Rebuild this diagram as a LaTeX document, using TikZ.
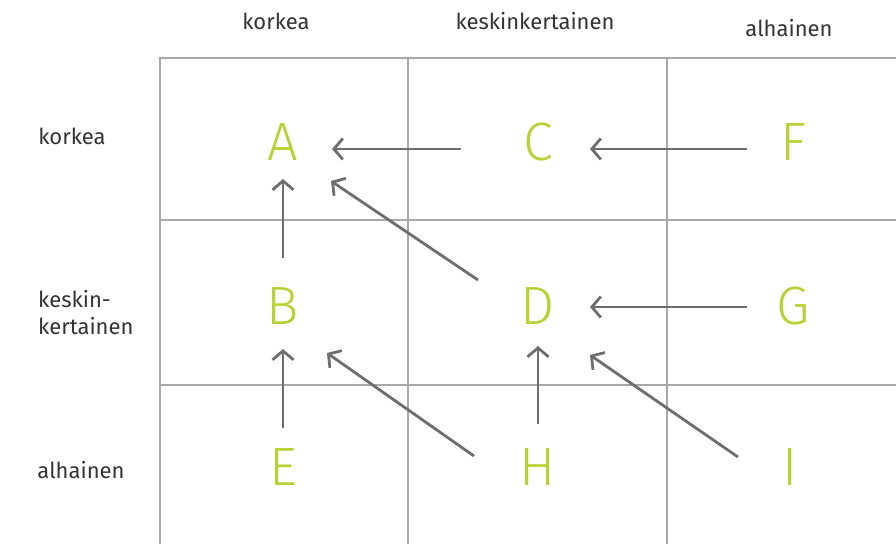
\documentclass[tikz,border=0pt]{standalone}
\usepackage{fontspec}
\setmainfont{Fira Sans}
\newfontfamily\lettfont{Fira Sans Light}
\usetikzlibrary{arrows.meta}
\definecolor{lime}{HTML}{B5D334}
\definecolor{arr}{HTML}{6E6E6E}
\definecolor{gridc}{HTML}{A8A8A8}
\definecolor{txt}{HTML}{333333}
\tikzset{
  letter/.style={text=lime, font=\lettfont\fontsize{54}{54}\selectfont, inner sep=0pt, anchor=center},
  lab/.style={text=txt, font=\fontsize{22}{27}\selectfont, inner sep=0pt},
  gridline/.style={draw=gridc, line width=1.6pt},
  flow/.style={draw=arr, line width=2.8pt, -{Straight Barb[length=9pt,width=21pt,line width=2.8pt]}},
}
\begin{document}
\begin{tikzpicture}[x=1pt,y=-1pt]
\useasboundingbox (0,0) rectangle (896,544);
% grid
\draw[gridline] (896,58) -- (160,58) -- (160,544);
\draw[gridline] (160,220) -- (896,220);
\draw[gridline] (160,385) -- (896,385);
\draw[gridline] (408,58) -- (408,544);
\draw[gridline] (667,58) -- (667,544);
% header labels
\node[lab] (hk) at (276,21) {korkea};
\node[lab] (hm) at (535,21) {keskinkertainen};
\node[lab] (ha) at (789,28) {alhainen};
\node[lab] (rk) at (72,136) {korkea};
\node[lab, align=left, anchor=west] (rm) at (38,313) {keskin-\\kertainen};
\node[lab] (ra) at (81,470) {alhainen};
% letters
\node[letter] (A) at (283,142) {A};
\node[letter] (C) at (538,142) {C};
\node[letter] (F) at (793,142) {F};
\node[letter] (B) at (283,306) {B};
\node[letter] (D) at (538,306) {D};
\node[letter] (G) at (793,306) {G};
\node[letter] (E) at (283,467) {E};
\node[letter] (H) at (538,467) {H};
\node[letter] (I) at (790,467) {I};
% arrow endpoints
\coordinate (cA1) at (461,149); \coordinate (cA2) at (332,149);
\coordinate (fC1) at (747,149); \coordinate (fC2) at (590,149);
\coordinate (bA1) at (283,258); \coordinate (bA2) at (283,179);
\coordinate (dA1) at (478,280); \coordinate (dA2) at (331,181);
\coordinate (gD1) at (747,307); \coordinate (gD2) at (590,307);
\coordinate (eB1) at (283,428); \coordinate (eB2) at (283,349);
\coordinate (hB1) at (474,456); \coordinate (hB2) at (327,353);
\coordinate (hD1) at (538,424); \coordinate (hD2) at (538,346);
\coordinate (iD1) at (738,457); \coordinate (iD2) at (590,355);
\draw[flow] (cA1) -- (cA2);
\draw[flow] (fC1) -- (fC2);
\draw[flow] (bA1) -- (bA2);
\draw[flow] (dA1) -- (dA2);
\draw[flow] (gD1) -- (gD2);
\draw[flow] (eB1) -- (eB2);
\draw[flow] (hB1) -- (hB2);
\draw[flow] (hD1) -- (hD2);
\draw[flow] (iD1) -- (iD2);
\end{tikzpicture}
\end{document}
